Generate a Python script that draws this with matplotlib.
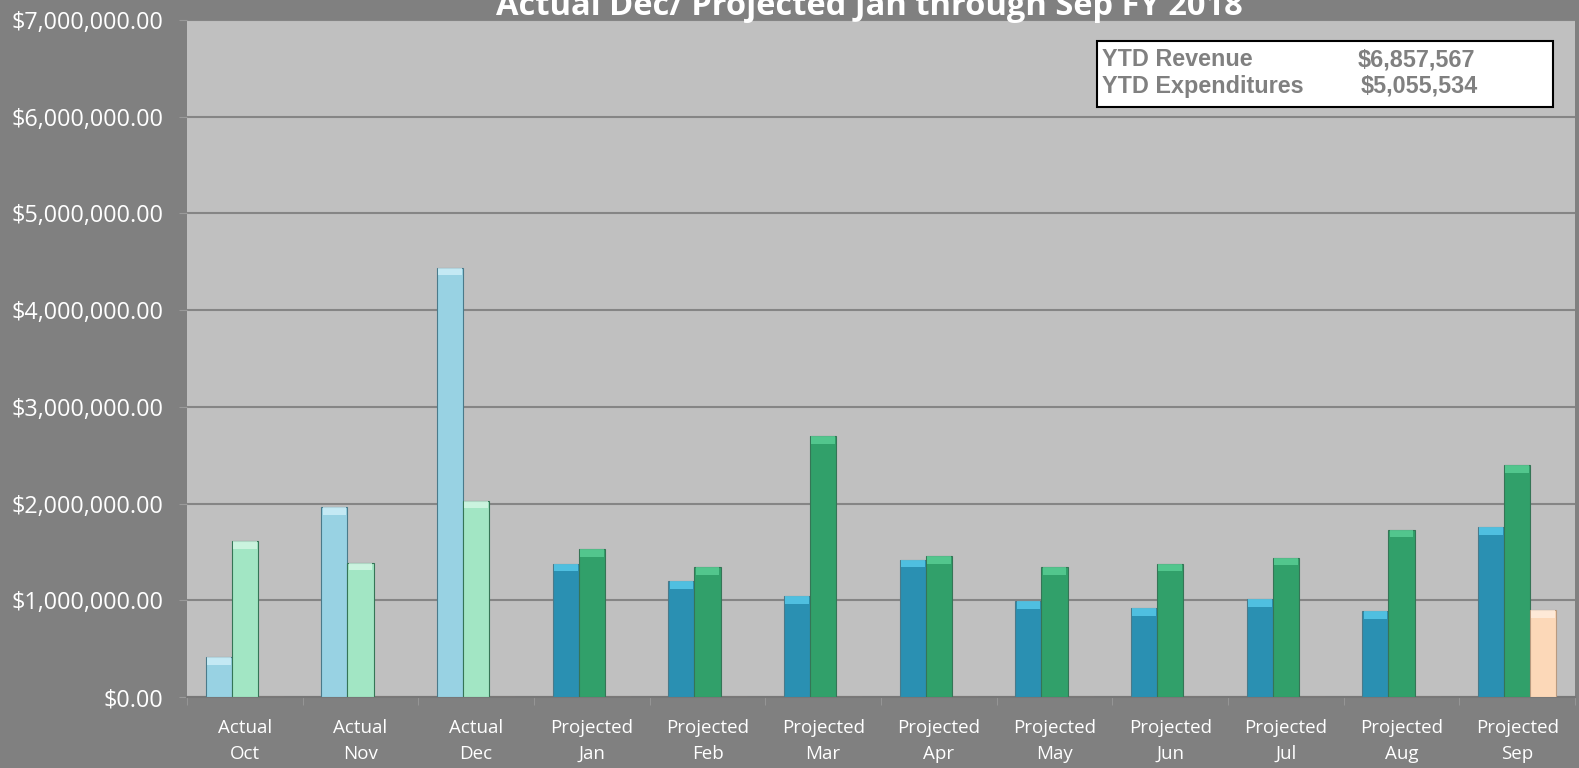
import matplotlib
matplotlib.use("Agg")
import matplotlib.pyplot as plt
import numpy as np
from matplotlib.patches import Rectangle
from matplotlib.ticker import FuncFormatter, FixedLocator

plt.rcParams["font.family"] = ["Open Sans", "DejaVu Sans"]

# values (dollars)
months = ["Actual\nOct", "Actual\nNov", "Actual\nDec", "Projected\nJan", "Projected\nFeb",
          "Projected\nMar", "Projected\nApr", "Projected\nMay", "Projected\nJun",
          "Projected\nJul", "Projected\nAug", "Projected\nSep"]
revenue = [410000, 1960000, 4440000, 1380000, 1200000, 1040000, 1420000, 990000,
           920000, 1010000, 890000, 1760000]
expenditures = [1610000, 1390000, 2030000, 1530000, 1340000, 2700000, 1460000, 1340000,
                1380000, 1440000, 1730000, 2400000]
other = [0, 0, 0, 0, 0, 0, 0, 0, 0, 0, 0, 900000]
is_actual = [True, True, True] + [False] * 9

title = "Actual Dec/ Projected Jan through Sep FY 2018"
ytd_labels = ["YTD Revenue", "YTD Expenditures"]
ytd_values = ["$6,857,567", "$5,055,534"]

BG = "#808080"
PLOT_BG = "#c0c0c0"
REV_COLORS = ("#98d2e3", "#2a90b2")   # (actual, projected)
EXP_COLORS = ("#a2e6c4", "#31a06a")
REV_TOP = ("#d4f2fa", "#5cd0f0")      # lighter bevel at the top of each bar
EXP_TOP = ("#d8f8e8", "#5ed39a")
OTHER_COLOR = "#fcd8b8"
OTHER_TOP = "#fff0e2"
BEVEL = 80000  # height of the top bevel, in data units

W, H = 1579, 768
fig = plt.figure(figsize=(W / 100, H / 100), dpi=100, facecolor=BG)
ax = fig.add_axes([187 / W, 1 - 697 / H, (1575 - 187) / W, (697 - 20) / H])
ax.set_facecolor(PLOT_BG)

x = np.arange(len(months))
bw = 0.225
rev_c = [REV_COLORS[0] if a else REV_COLORS[1] for a in is_actual]
exp_c = [EXP_COLORS[0] if a else EXP_COLORS[1] for a in is_actual]
rev_t = [REV_TOP[0] if a else REV_TOP[1] for a in is_actual]
exp_t = [EXP_TOP[0] if a else EXP_TOP[1] for a in is_actual]


def bevel_bar(xs, vals, colors, tops, edge):
    vals = np.asarray(vals, dtype=float)
    ax.bar(xs, vals, bw, color=colors, edgecolor=edge, linewidth=0.8, zorder=3)
    mask = vals > 0
    ax.bar(xs[mask], np.full(mask.sum(), BEVEL), bw * 0.92, bottom=vals[mask] - BEVEL,
           color=np.asarray(tops)[mask], linewidth=0, alpha=0.75, zorder=4)


bevel_bar(x - bw, revenue, rev_c, rev_t, "#4a7a8a")
bevel_bar(x, expenditures, exp_c, exp_t, "#357556")
bevel_bar(x + bw, other, [OTHER_COLOR] * len(x), [OTHER_TOP] * len(x), "#b89a80")

ax.set_xlim(-0.5, len(months) - 0.5)
ax.set_ylim(0, 7000000)
ax.set_yticks(np.arange(0, 7000001, 1000000))
ax.yaxis.set_major_formatter(FuncFormatter(lambda v, p: f"${v:,.2f}"))
ax.grid(axis="y", color="#858585", linewidth=1.5, zorder=1)
ax.set_axisbelow(True)

ax.set_xticks(x)
ax.set_xticklabels(months, linespacing=1.55)
ax.xaxis.set_minor_locator(FixedLocator(np.arange(-0.5, len(months), 1.0)))
ax.tick_params(axis="x", which="major", length=0, pad=16, labelsize=13.5, labelcolor="white")
ax.tick_params(axis="x", which="minor", length=6, color="#9a9a9a", direction="out")
ax.tick_params(axis="y", length=6, color="#9a9a9a", pad=11, labelsize=16.8, labelcolor="white")

for side in ["top", "right", "left"]:
    ax.spines[side].set_visible(False)
ax.spines["bottom"].set_color("#777777")
ax.spines["bottom"].set_linewidth(1.5)

fig.text(869 / W, 1 - 15 / H, title, ha="center", va="baseline", color="white",
         fontsize=23.5, fontweight="bold")

# YTD summary box
box = Rectangle((1097 / W, 1 - 107 / H), (1553 - 1097) / W, (107 - 41) / H,
                transform=fig.transFigure, facecolor="white", edgecolor="black",
                linewidth=1.5, zorder=5)
fig.patches.append(box)
for i, (lab, val) in enumerate(zip(ytd_labels, ytd_values)):
    yb = 1 - (66 + 27 * i) / H
    fig.text(1102 / W, yb, lab, ha="left", va="baseline", color="#808080",
             fontsize=16.8, fontweight="bold", family="Liberation Sans", zorder=6)
    fig.text((1358 + 3 * i) / W, yb, val, ha="left", va="baseline", color="#808080",
             fontsize=16.8, fontweight="bold", family="Liberation Sans", zorder=6)

fig.savefig("out.png", dpi=100, facecolor=BG)
